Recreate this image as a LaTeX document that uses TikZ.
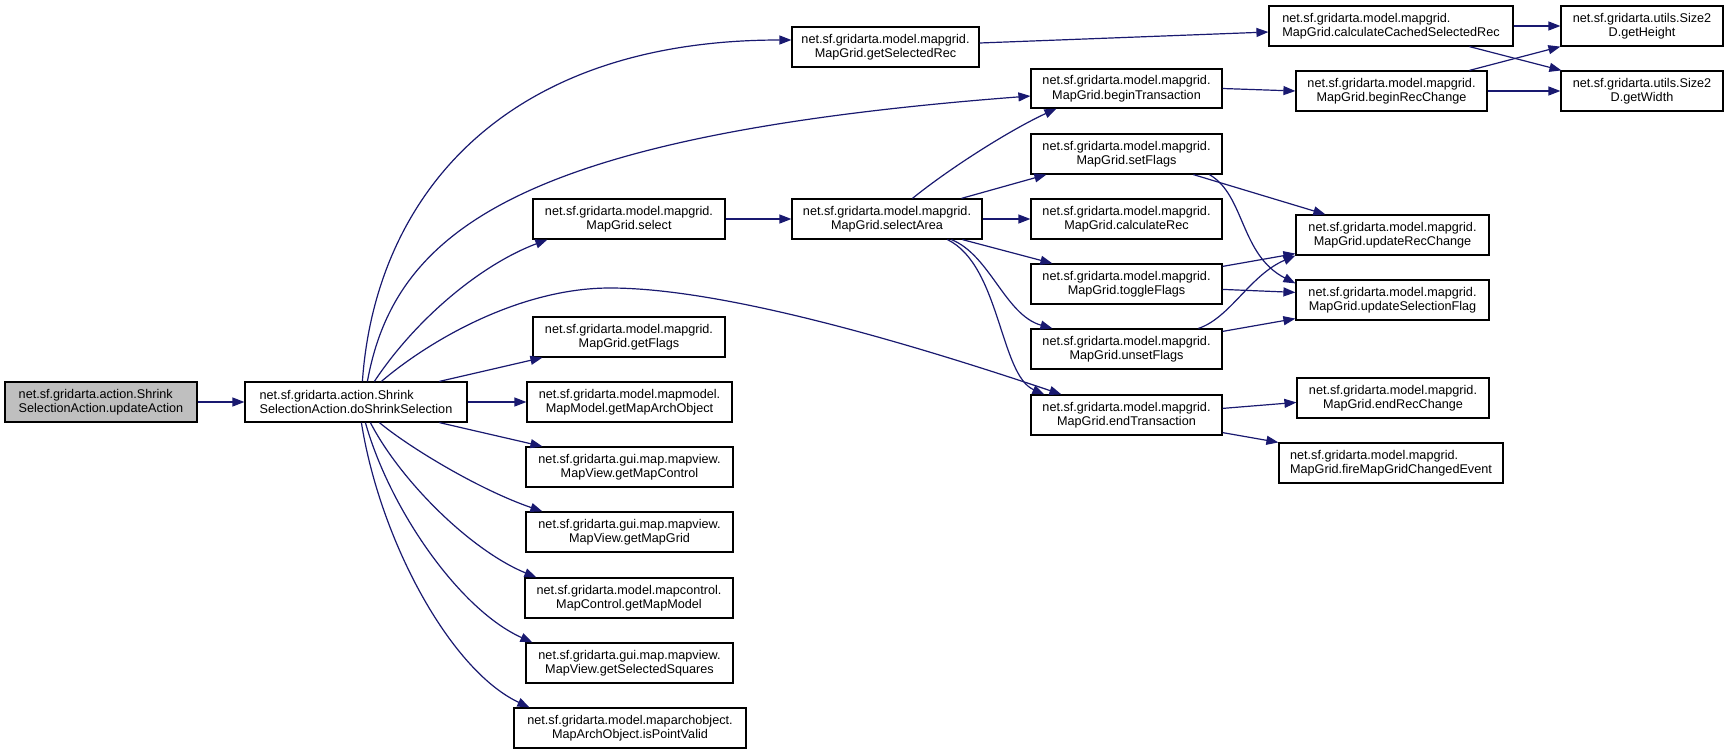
\documentclass[tikz,border=0pt]{standalone}
\usepackage{fontspec}
\setmainfont{Liberation Sans}
\usetikzlibrary{arrows.meta}
\definecolor{edgecol}{HTML}{191970}
\definecolor{rootfill}{HTML}{BFBFBF}
\tikzset{
  box/.style={draw=black, line width=1.2pt, rectangle, inner sep=0pt, align=center,
    font=\fontsize{12.65}{14.5}\selectfont},
  lbox/.style={box, align=left},
  call/.style={draw=edgecol, line width=1.2pt, -{Triangle[length=12pt,width=9pt]}},
}
\newcommand\mkbox[7][]{\node[box,#1,minimum width={(#5-#3)*1pt},minimum height={(#6-#4)*1pt}] (#2) at ({(#3+#5)/2},{-(#4+#6)/2}) {#7};}
\begin{document}
\begin{tikzpicture}[x=1pt,y=1pt]
\useasboundingbox (0,0) rectangle (1729,-755);
\fill[white] (0,0) rectangle (1729,-755);
% nodes
\mkbox[lbox,fill=rootfill]{ua}{5}{382}{197}{422}{net.sf.gridarta.action.Shrink\\SelectionAction.updateAction}
\mkbox[lbox]{ds}{245}{382}{467}{422}{net.sf.gridarta.action.Shrink\\SelectionAction.doShrinkSelection}
\mkbox{gsr}{792}{27}{979}{67}{net.sf.gridarta.model.mapgrid.\\MapGrid.getSelectedRec}
\mkbox{sel}{533}{199}{725}{239}{net.sf.gridarta.model.mapgrid.\\MapGrid.select}
\mkbox{sa}{792}{199}{982}{239}{net.sf.gridarta.model.mapgrid.\\MapGrid.selectArea}
\mkbox{bt}{1031}{69}{1222}{108}{net.sf.gridarta.model.mapgrid.\\MapGrid.beginTransaction}
\mkbox[lbox]{ccsr}{1269}{6}{1513}{46}{net.sf.gridarta.model.mapgrid.\\MapGrid.calculateCachedSelectedRec}
\mkbox{gh}{1561}{6}{1723}{46}{net.sf.gridarta.utils.Size2\\D.getHeight}
\mkbox{brc}{1296}{71}{1487}{111}{net.sf.gridarta.model.mapgrid.\\MapGrid.beginRecChange}
\mkbox{gw}{1561}{71}{1723}{111}{net.sf.gridarta.utils.Size2\\D.getWidth}
\mkbox{sf}{1031}{134}{1222}{174}{net.sf.gridarta.model.mapgrid.\\MapGrid.setFlags}
\mkbox{cr}{1031}{199}{1222}{239}{net.sf.gridarta.model.mapgrid.\\MapGrid.calculateRec}
\mkbox{urc}{1296}{215}{1489}{255}{net.sf.gridarta.model.mapgrid.\\MapGrid.updateRecChange}
\mkbox{tf}{1031}{264}{1222}{304}{net.sf.gridarta.model.mapgrid.\\MapGrid.toggleFlags}
\mkbox{usel}{1296}{280}{1489}{320}{net.sf.gridarta.model.mapgrid.\\MapGrid.updateSelectionFlag}
\mkbox{unf}{1031}{329}{1222}{369}{net.sf.gridarta.model.mapgrid.\\MapGrid.unsetFlags}
\mkbox{et}{1031}{395}{1222}{435}{net.sf.gridarta.model.mapgrid.\\MapGrid.endTransaction}
\mkbox{erc}{1297}{378}{1489}{418}{net.sf.gridarta.model.mapgrid.\\MapGrid.endRecChange}
\mkbox[lbox]{fire}{1279}{443}{1503}{483}{net.sf.gridarta.model.mapgrid.\\MapGrid.fireMapGridChangedEvent}
\mkbox{gf}{533}{317}{725}{357}{net.sf.gridarta.model.mapgrid.\\MapGrid.getFlags}
\mkbox{gmao}{527}{382}{732}{422}{net.sf.gridarta.model.mapmodel.\\MapModel.getMapArchObject}
\mkbox{gmc}{526}{447}{733}{487}{net.sf.gridarta.gui.map.mapview.\\MapView.getMapControl}
\mkbox{gmg}{526}{512}{733}{552}{net.sf.gridarta.gui.map.mapview.\\MapView.getMapGrid}
\mkbox{gmm}{525}{578}{733}{618}{net.sf.gridarta.model.mapcontrol.\\MapControl.getMapModel}
\mkbox{gss}{526}{643}{733}{683}{net.sf.gridarta.gui.map.mapview.\\MapView.getSelectedSquares}
\mkbox{ipv}{514}{708}{746}{748}{net.sf.gridarta.model.maparchobject.\\MapArchObject.isPointValid}
% edges
\draw[call] (ua.east) -- (ds.west);
\draw[call] ([xshift=118pt]ds.north west) .. controls (375,-200) and (500,-40) .. ([yshift=7pt]gsr.west);
\draw[call] ([xshift=123pt]ds.north west) .. controls (395,-230) and (520,-135) .. ([yshift=-7.5pt]bt.west);
\draw[call] ([xshift=130pt]ds.north west) .. controls (415,-320) and (480,-265) .. ([xshift=15pt]sel.south west);
\draw[call] ([xshift=137pt]ds.north west) .. controls (430,-340) and (520,-288) .. (610,-288) .. controls (720,-288) and (900,-340) .. ([xshift=31pt]et.north west);
\draw[call] ([xshift=195pt]ds.north west) -- ([xshift=10pt]gf.south west);
\draw[call] (ds.east) -- (gmao.west);
\draw[call] ([xshift=195pt]ds.south west) -- ([xshift=17pt]gmc.north west);
\draw[call] ([xshift=135pt]ds.south west) .. controls (410,-448) and (480,-490) .. ([xshift=17pt]gmg.north west);
\draw[call] ([xshift=126pt]ds.south west) .. controls (400,-480) and (470,-550) .. ([xshift=12pt]gmm.north west);
\draw[call] ([xshift=121pt]ds.south west) .. controls (390,-510) and (460,-610) .. ([xshift=7pt]gss.north west);
\draw[call] ([xshift=117pt]ds.south west) .. controls (380,-540) and (450,-670) .. ([xshift=16pt]ipv.north west);
\draw[call] (sel.east) -- (sa.west);
\draw[call] ([xshift=121pt]sa.north west) .. controls (950,-168) and (1010,-130) .. ([xshift=26pt]bt.south west);
\draw[call] ([xshift=170pt]sa.north west) -- ([xshift=16pt]sf.south west);
\draw[call] (sa.east) -- (cr.west);
\draw[call] ([xshift=171pt]sa.south west) -- ([xshift=22pt]tf.north west);
\draw[call] ([xshift=160pt]sa.south west) .. controls (990,-255) and (1005,-315) .. ([xshift=22pt]unf.north west);
\draw[call] ([xshift=156pt]sa.south west) .. controls (1000,-265) and (1000,-375) .. ([xshift=14pt]et.north west);
\draw[call] (bt.east) -- (brc.west);
\draw[call] ([yshift=4pt]gsr.east) -- ([yshift=-6pt]ccsr.west);
\draw[call] (ccsr.east) -- (gh.west);
\draw[call] ([xshift=201pt]ccsr.south west) -- ([xshift=1pt]gw.north west);
\draw[call] ([xshift=174pt]brc.north west) -- ([xshift=0pt]gh.south west);
\draw[call] (brc.east) -- (gw.west);
\draw[call] ([xshift=163pt]sf.south west) -- ([xshift=30pt]urc.north west);
\draw[call] ([xshift=179pt]sf.south west) .. controls (1245,-195) and (1240,-255) .. ([yshift=-4pt]usel.north west);
\draw[call] ([yshift=-3pt]tf.north east) -- ([yshift=2pt]urc.south west);
\draw[call] ([yshift=-26pt]tf.north east) -- ([yshift=-13pt]usel.north west);
\draw[call] ([xshift=168pt]unf.north west) .. controls (1230,-318) and (1250,-275) .. (urc.south west);
\draw[call] ([yshift=-3pt]unf.north east) -- ([yshift=2pt]usel.south west);
\draw[call] ([yshift=-14pt]et.north east) -- ([yshift=-25pt]erc.north west);
\draw[call] ([yshift=3pt]et.south east) -- (fire.north west);
\end{tikzpicture}
\end{document}
